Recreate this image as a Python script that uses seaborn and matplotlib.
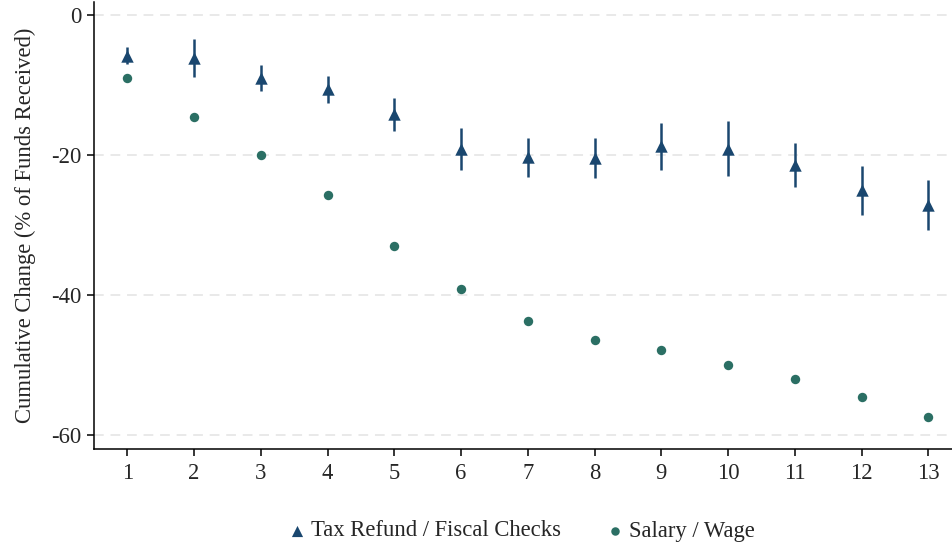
import matplotlib
matplotlib.use("Agg")
import matplotlib.pyplot as plt
import seaborn as sns
import pandas as pd

# Months since receipt of funds
months = [1, 2, 3, 4, 5, 6, 7, 8, 9, 10, 11, 12, 13]

# Tax refund / fiscal checks: point estimates and confidence bounds
tax_est = [-5.8, -6.1, -9.0, -10.6, -14.1, -19.2, -20.3, -20.4, -18.7, -19.1, -21.4, -25.0, -27.1]
tax_lo = [-7.0, -8.8, -10.8, -12.6, -16.5, -22.1, -23.2, -23.3, -22.1, -23.0, -24.5, -28.6, -30.7]
tax_hi = [-4.6, -3.4, -7.2, -8.7, -11.8, -16.2, -17.5, -17.6, -15.4, -15.2, -18.3, -21.5, -23.6]

# Salary / wage: point estimates
wage_est = [-9.0, -14.5, -20.0, -25.7, -33.0, -39.2, -43.7, -46.4, -47.9, -50.0, -52.0, -54.6, -57.4]

y_ticks = [0, -20, -40, -60]
labels = ["Tax Refund / Fiscal Checks", "Salary / Wage"]

navy = "#1a476f"
teal = "#2b6f64"

sns.set_theme(style="white")
plt.rcParams["font.family"] = ["Liberation Serif", "DejaVu Serif"]
plt.rcParams["axes.unicode_minus"] = False

tax_df = pd.DataFrame({"month": months, "value": tax_est})
wage_df = pd.DataFrame({"month": months, "value": wage_est})

fig = plt.figure(figsize=(9.53, 5.48), dpi=100)
ax = fig.add_axes([94 / 953, 1 - 449 / 548, 1 - 94 / 953, (449 - 2) / 548])

for y in y_ticks:
    ax.axhline(y, color="#e9e9e9", lw=1.4, dashes=(5, 3.5), zorder=0)

ax.vlines(tax_df["month"], tax_lo, tax_hi, color=navy, lw=1.8, zorder=2)

sns.scatterplot(data=tax_df, x="month", y="value", color=navy, marker="^",
                s=80, linewidth=0, ax=ax, zorder=3, label=labels[0])
sns.scatterplot(data=wage_df, x="month", y="value", color=teal, marker="o",
                s=46, linewidth=0, ax=ax, zorder=3, label=labels[1])

ax.set_xlim(0.5, 13.37)
ax.set_ylim(-62, 1.86)
ax.set_xticks(months)
ax.set_yticks(y_ticks)
ax.set_xticklabels([str(m) for m in months])
ax.set_yticklabels([str(v) for v in y_ticks])
ax.tick_params(axis="both", which="major", labelsize=16.3, length=5, width=1.1,
               color="black", direction="out", bottom=True, left=True, pad=4)
ax.tick_params(axis="x", pad=5)

for side in ["top", "right"]:
    ax.spines[side].set_visible(False)
for side in ["left", "bottom"]:
    ax.spines[side].set_color("black")
    ax.spines[side].set_linewidth(1.1)

ax.set_xlabel("")
ax.set_ylabel("Cumulative Change (% of Funds Received)", fontsize=16.3, labelpad=11)

handles, lbls = ax.get_legend_handles_labels()
ax.legend(handles, lbls, loc="center", bbox_to_anchor=((520 - 94) / 859, -(531 - 449) / 447),
          ncol=2, frameon=False, fontsize=16.3, handletextpad=0.1, handlelength=1.0,
          columnspacing=1.9, markerscale=0.9)

fig.savefig("out.png", dpi=100)
